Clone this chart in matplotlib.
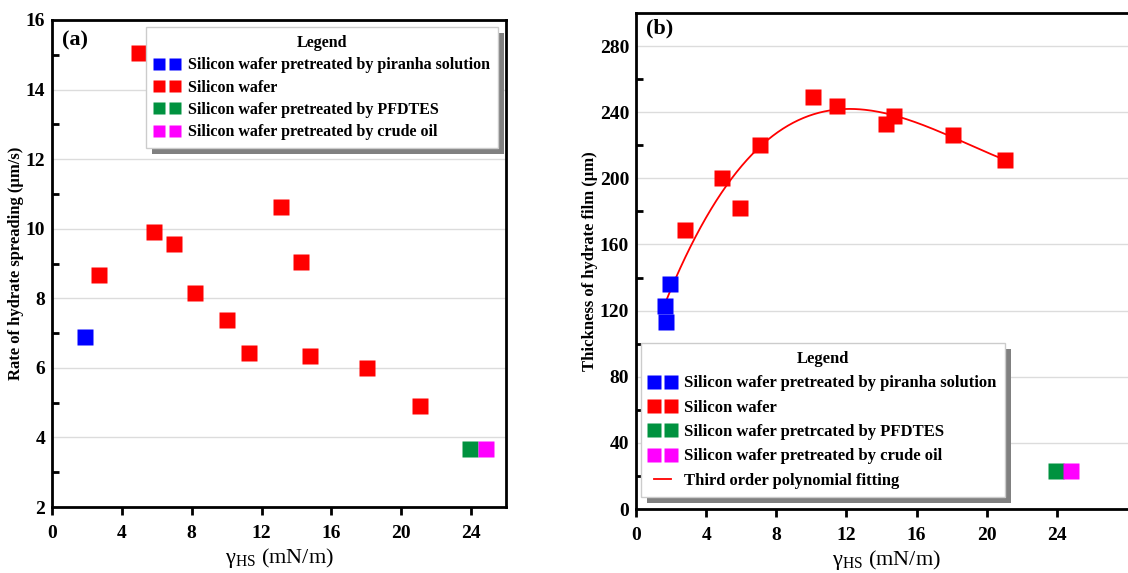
import numpy as np
import matplotlib
matplotlib.use("Agg")
import matplotlib.pyplot as plt
from matplotlib.patches import Rectangle

plt.rcParams["font.family"] = ["Liberation Serif", "DejaVu Serif"]
plt.rcParams["mathtext.fontset"] = "custom"
plt.rcParams["mathtext.rm"] = "Liberation Serif"

# ── Data ───────────────────────────────────────────────────────────
# (a) rate of hydrate spreading
a_piranha_x = [1.9]
a_piranha_y = [6.9]
a_wafer_x = [2.7, 5.0, 5.85, 7.0, 8.2, 10.0, 11.3, 13.1, 14.25, 14.75, 18.05, 21.05]
a_wafer_y = [8.67, 15.05, 9.9, 9.56, 8.16, 7.38, 6.43, 10.63, 9.05, 6.35, 6.0, 4.9]
a_pfdtes_x = [23.95]
a_pfdtes_y = [3.67]
a_oil_x = [24.85]
a_oil_y = [3.67]

# (b) thickness of hydrate film
b_piranha_x = [1.65, 1.7, 1.95]
b_piranha_y = [123, 113, 136]
b_wafer_x = [2.8, 4.9, 5.93, 7.07, 10.1, 11.46, 14.25, 14.7, 18.1, 21.05]
b_wafer_y = [169, 200, 182, 220, 249, 244, 233, 238, 226, 211]
b_pfdtes_x = [23.95]
b_pfdtes_y = [23]
b_oil_x = [24.8]
b_oil_y = [23]

labels_a = ["Silicon wafer pretreated by piranha solution",
            "Silicon wafer",
            "Silicon wafer pretreated by PFDTES",
            "Silicon wafer pretreated by crude oil"]
labels_b = ["Silicon wafer pretreated by piranha solution",
            "Silicon wafer",
            "Silicon wafer pretrcated by PFDTES",
            "Silicon wafer pretreated by crude oil",
            "Third order polynomial fitting"]

colors = ["#0000ff", "#ff0000", "#00923f", "#ff00ff"]

W, H = 1128, 573
fig = plt.figure(figsize=(W / 100, H / 100), dpi=100)

axa = fig.add_axes([52 / W, 1 - 507 / H, (506 - 52) / W, (507 - 20) / H])
axb = fig.add_axes([636 / W, 1 - 509 / H, 500 / W, (509 - 13) / H])


def style_axes(ax):
    for s in ax.spines.values():
        s.set_linewidth(2.0)
    ax.grid(axis="y", color="#dcdcdc", lw=1.0)
    ax.set_axisbelow(True)
    ax.tick_params(axis="y", which="both", direction="in", width=2, length=5,
                   labelsize=14, pad=5)
    ax.tick_params(axis="y", which="major", length=0)
    ax.tick_params(axis="x", direction="out", width=2, length=6, labelsize=14, pad=7)
    for t in ax.get_xticklabels() + ax.get_yticklabels():
        t.set_fontweight("bold")


def make_legend(ax, loc, anchor, size, spacing, mscale):
    leg = ax.legend(loc=loc, bbox_to_anchor=anchor, numpoints=2,
                    markerscale=mscale, fontsize=size, title="Legend",
                    title_fontproperties={"weight": "bold", "size": size},
                    fancybox=False, framealpha=1, edgecolor="#cccccc",
                    handlelength=1.6, handletextpad=0.5, labelspacing=spacing,
                    borderpad=0.5, borderaxespad=0)
    for t in leg.get_texts():
        t.set_fontweight("bold")
    leg.set_zorder(10)
    return leg


def shadow_legend(ax, leg, off=6):
    fig.canvas.draw()
    bb = leg.get_window_extent()
    inv = fig.transFigure.inverted()
    (x0, y0), (x1, y1) = inv.transform([[bb.x0 + off, bb.y0 - off], [bb.x1 + off, bb.y1 - off]])
    ax.add_patch(Rectangle((x0, y0), x1 - x0, y1 - y0, transform=fig.transFigure,
                           facecolor="#808080", edgecolor="none", zorder=9, clip_on=False))


ms = 11
# ── Panel (a) ──────────────────────────────────────────────────────
for xs, ys, c, lab in zip([a_piranha_x, a_wafer_x, a_pfdtes_x, a_oil_x],
                          [a_piranha_y, a_wafer_y, a_pfdtes_y, a_oil_y], colors, labels_a):
    axa.plot(xs, ys, "s", color=c, ms=ms, mec="none", label=lab)
axa.set_xlim(0, 26)
axa.set_ylim(2, 16)
axa.set_xticks(range(0, 25, 4))
axa.set_yticks(range(2, 17, 2))
axa.set_yticks(range(3, 16, 2), minor=True)
style_axes(axa)
axa.set_ylabel("Rate of hydrate spreading (μm/s)", fontsize=12, fontweight="bold", labelpad=1)
axa.set_xlabel("γ$_{\\rm HS}$ (mN/m)", fontsize=16, labelpad=3)
axa.text(0.022, 0.978, "(a)", transform=axa.transAxes, fontsize=16, fontweight="bold",
         va="top", ha="left")
lega = make_legend(axa, "upper right", (0.982, 0.986), 11.5, 0.4, 0.8)

# ── Panel (b) ──────────────────────────────────────────────────────
for xs, ys, c, lab in zip([b_piranha_x, b_wafer_x, b_pfdtes_x, b_oil_x],
                          [b_piranha_y, b_wafer_y, b_pfdtes_y, b_oil_y], colors, labels_b[:4]):
    axb.plot(xs, ys, "s", color=c, ms=ms, mec="none", label=lab, zorder=3)

fit_x = np.array(b_piranha_x + b_wafer_x)
fit_y = np.array(b_piranha_y + b_wafer_y)
coef = np.polyfit(fit_x, fit_y, 3)
xx = np.linspace(fit_x.min(), fit_x.max(), 200)
axb.plot(xx, np.polyval(coef, xx), color="#ff0000", lw=1.3, label=labels_b[4], zorder=2)

axb.set_xlim(0, 500 / 17.54)
axb.set_ylim(0, 300)
axb.set_xticks(range(0, 25, 4))
axb.set_yticks(range(0, 281, 40))
axb.set_yticks(range(20, 300, 40), minor=True)
style_axes(axb)
axb.set_ylabel("Thickness of hydrate film (μm)", fontsize=12, fontweight="bold", labelpad=1)
axb.set_xlabel("γ$_{\\rm HS}$ (mN/m)", fontsize=16, labelpad=3)
axb.text(0.02, 0.988, "(b)", transform=axb.transAxes, fontsize=16, fontweight="bold",
         va="top", ha="left")
legb = make_legend(axb, "lower left", (0.01, 0.024), 12, 0.5, 0.95)

shadow_legend(axa, lega)
shadow_legend(axb, legb)

fig.savefig("out.png", dpi=100)
